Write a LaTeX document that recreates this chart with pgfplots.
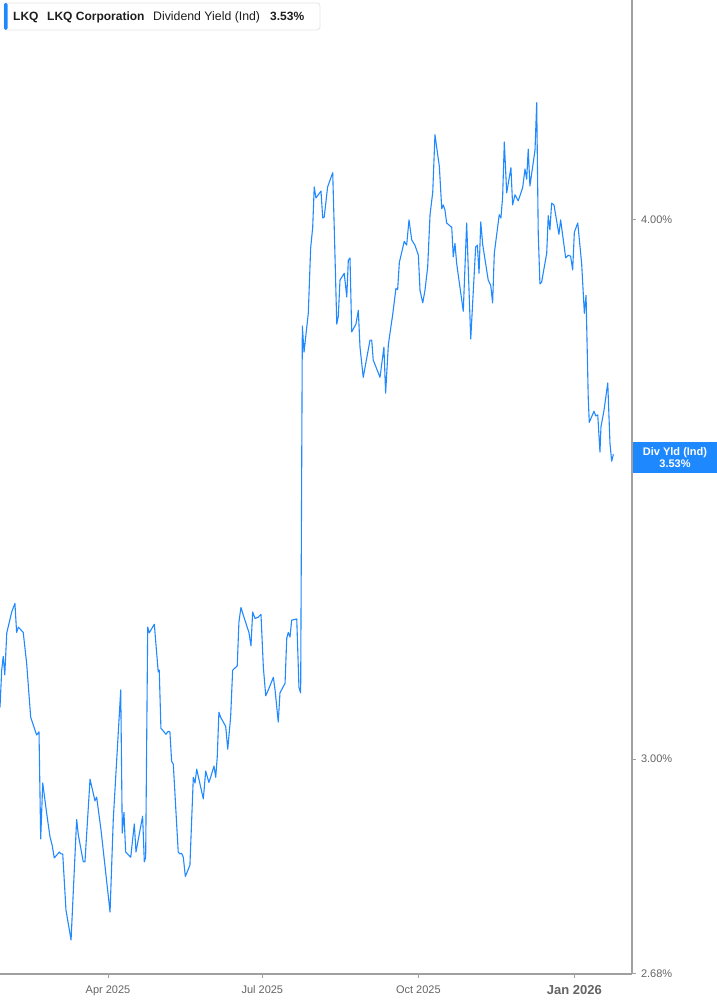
\documentclass[border=0pt]{standalone}
\usepackage{fontspec}
\setmainfont{Liberation Sans}
\usepackage{pgfplots}
\usepackage{pgfplotstable}
\pgfplotsset{compat=1.18}
\definecolor{lineblue}{RGB}{33,137,255}
\definecolor{axgray}{RGB}{160,160,160}
\definecolor{lblgray}{RGB}{100,100,100}
\definecolor{boxblue}{RGB}{30,136,255}
\definecolor{hdrtext}{RGB}{30,30,30}

\pgfplotstableread{
d v
26.3 3.084
27.3 3.146
28.2 3.169
29.1 3.138
30.3 3.209
33.2 3.245
35.1 3.260
36.1 3.210
37.1 3.219
40.0 3.210
42.0 3.158
44.4 3.068
47.9 3.039
49.3 3.044
50.3 2.875
51.5 2.962
53.8 2.915
55.8 2.878
57.1 2.865
58.3 2.846
61.3 2.855
62.3 2.852
63.3 2.852
65.2 2.768
68.2 2.724
71.5 2.905
72.5 2.881
75.4 2.840
76.4 2.840
79.4 2.968
82.3 2.934
83.3 2.940
85.9 2.888
91.2 2.765
93.1 2.905
97.5 3.113
98.4 2.884
99.4 2.916
100.4 2.855
103.4 2.847
105.5 2.898
106.5 2.855
110.4 2.910
111.4 2.840
112.2 2.847
113.4 3.219
114.3 3.209
117.3 3.224
119.6 3.143
120.2 3.146
121.2 3.050
124.2 3.040
125.5 3.045
126.5 3.044
127.5 2.997
128.5 2.992
131.4 2.855
132.4 2.852
133.4 2.853
134.4 2.847
135.6 2.818
138.3 2.835
140.3 2.971
141.3 2.962
142.3 2.984
146.2 2.937
147.6 2.981
149.5 2.963
150.7 2.973
152.5 2.989
153.5 2.971
154.4 3.003
155.4 3.076
156.4 3.068
159.4 3.053
160.6 3.016
162.3 3.068
163.5 3.146
166.2 3.153
167.2 3.228
168.4 3.253
170.4 3.234
173.1 3.210
174.3 3.187
175.3 3.245
176.7 3.234
178.6 3.236
180.2 3.241
181.6 3.151
183.0 3.103
185.1 3.117
187.5 3.134
188.5 3.113
190.4 3.060
191.4 3.108
194.4 3.124
195.4 3.200
196.3 3.210
197.3 3.202
198.3 3.231
201.3 3.233
202.6 3.117
203.6 3.108
204.6 3.780
205.6 3.728
208.1 3.806
209.5 3.941
210.7 3.985
211.6 4.071
212.6 4.047
215.6 4.062
216.6 4.004
217.5 4.006
219.5 4.071
222.5 4.102
223.4 3.985
224.9 3.784
225.8 3.800
226.8 3.874
229.3 3.888
230.8 3.839
231.7 3.915
232.7 3.920
233.7 3.768
236.2 3.784
237.6 3.812
238.6 3.738
240.5 3.678
244.5 3.752
245.5 3.752
246.4 3.712
250.4 3.678
252.7 3.738
253.7 3.647
255.3 3.742
256.3 3.766
257.9 3.804
259.8 3.857
260.8 3.855
261.8 3.911
263.2 3.932
264.7 3.955
266.1 3.947
267.5 4.000
269.1 3.958
271.0 3.947
273.0 3.926
274.0 3.853
275.6 3.827
276.9 3.853
278.5 3.901
279.9 4.011
281.5 4.060
282.8 4.186
285.4 4.115
286.8 4.024
287.7 4.032
288.7 4.021
289.7 3.994
292.7 3.985
293.6 3.922
294.6 3.951
295.6 3.909
299.5 3.810
301.5 3.994
303.9 3.754
306.8 3.943
307.8 3.947
308.8 3.888
309.8 3.996
311.0 3.947
314.2 3.874
315.7 3.863
316.8 3.827
317.8 3.930
320.7 4.011
321.7 4.004
322.7 4.049
323.7 4.170
325.1 4.058
327.6 4.113
328.6 4.032
330.0 4.054
331.9 4.041
334.5 4.069
335.9 4.110
336.9 4.088
337.8 4.154
338.8 4.073
341.8 4.152
342.8 4.258
343.7 3.972
344.7 3.866
345.7 3.870
348.7 3.930
349.6 4.009
350.6 3.979
351.6 4.036
353.0 4.032
355.9 3.970
356.9 4.000
359.9 3.920
361.4 3.926
362.8 3.924
364.0 3.895
365.0 3.974
367.0 3.994
369.3 3.909
370.9 3.806
371.9 3.843
373.2 3.637
373.8 3.591
376.6 3.612
377.6 3.603
378.8 3.605
380.1 3.534
380.7 3.582
382.5 3.614
384.7 3.667
386.0 3.551
387.0 3.517
388.0 3.530
}\yielddata

\begin{document}
\begin{tikzpicture}
\useasboundingbox (0pt,0pt) rectangle (717pt,1005pt);
\begin{axis}[
  at={(0pt,31pt)}, anchor=south west,
  scale only axis, width=632pt, height=974pt,
  ymode=log, ymin=2.675, ymax=4.498,
  xmin=26.3, xmax=399,
  axis x line*=bottom, axis y line*=right,
  axis line style={axgray, line width=1.2pt, -},
  tick align=outside,
  major tick length=4pt,
  tick style={axgray, line width=1pt},
  ytick pos=right,
  xtick pos=bottom,
  ytick={2.675,3,4},
  yticklabels={2.68\%,3.00\%,4.00\%},
  yticklabel style={font=\fontsize{11}{12}\selectfont, text=lblgray, anchor=west, xshift=1.5pt},
  xtick={90,181,273,365},
  xticklabels={Apr 2025,Jul 2025,Oct 2025,{\bfseries\fontsize{13}{14}\selectfont Jan 2026}},
  xticklabel style={font=\fontsize{11}{12}\selectfont, text=lblgray, anchor=north, yshift=-4pt},
  minor tick num=0,
]
\addplot[lineblue, line width=1.1pt, line join=round] table[x=d, y=v] {\yielddata};
\end{axis}
% header box
\draw[draw=black!10, fill=white, rounded corners=3pt, line width=0.8pt] (4pt,975pt) rectangle (320pt,1002pt);
\fill[boxblue, rounded corners=1.5pt] (4pt,975pt) rectangle (7.5pt,1002pt);
\node[anchor=base west, inner sep=0, text=hdrtext, font=\bfseries\fontsize{12}{14}\selectfont] at (13pt,984pt) {LKQ};
\node[anchor=base west, inner sep=0, text=hdrtext, font=\bfseries\fontsize{12}{14}\selectfont] at (47pt,984pt) {LKQ Corporation};
\node[anchor=base west, inner sep=0, text=hdrtext, font=\fontsize{12.3}{14}\selectfont] at (153pt,984pt) {Dividend Yield (Ind)};
\node[anchor=base west, inner sep=0, text=hdrtext, font=\bfseries\fontsize{12}{14}\selectfont] at (270pt,984pt) {3.53\%};
% right label
\fill[boxblue] (633pt,532pt) rectangle (717pt,563pt);
\node[align=center, text=white, inner sep=0, font=\bfseries\fontsize{11}{11.5}\selectfont] at (675pt,547.5pt) {Div Yld (Ind)\\3.53\%};
\end{tikzpicture}
\end{document}
